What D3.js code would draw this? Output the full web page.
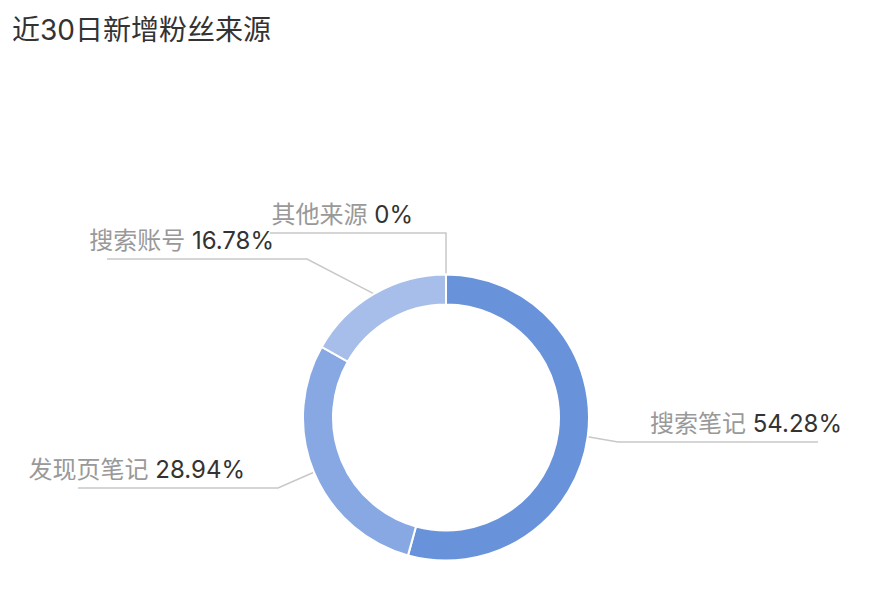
<!DOCTYPE html>
<html>
<head>
<meta charset="utf-8">
<script src="https://cdn.jsdelivr.net/npm/d3@7/dist/d3.min.js"></script>
<style>
html,body{margin:0;padding:0;background:#fff;}
svg{display:block;font-family:"Inter","Noto Sans CJK SC","Noto Sans",sans-serif;}
</style>
</head>
<body>
<svg id="chart" width="892" height="604"></svg>
<script>
const title = "近30日新增粉丝来源";
const categories = ["搜索笔记", "发现页笔记", "搜索账号", "其他来源"];
const values = [54.28, 28.94, 16.78, 0];
const valueLabels = ["54.28%", "28.94%", "16.78%", "0%"];
const colors = ["#6893da", "#88a8e3", "#a6bee9", "#c3d3f0"];

// label layout (elbow position relative to centre, horizontal run)
const labelElbows = [
  {dx: 172, dy: 24.5, run: 200},
  {dx: -168, dy: 70.5, run: -200},
  {dx: -139, dy: -158.5, run: -200},
  {dx: 0, dy: -184.5, run: -176}
];

const W = 892, H = 604;
const cx = 446, cy = 417.5, rOuter = 143, rInner = 113;
const svg = d3.select("#chart");

svg.append("text")
  .attr("x", 12).attr("y", 40)
  .attr("font-size", 28).attr("fill", "#333")
  .text(title);

const data = categories.map((c, i) => ({name: c, value: values[i], label: valueLabels[i], color: colors[i], el: labelElbows[i]}));

const pie = d3.pie().value(d => d.value).sort(null).startAngle(0).endAngle(2 * Math.PI);
const arcs = pie(data);
const arc = d3.arc().innerRadius(rInner).outerRadius(rOuter);

const g = svg.append("g").attr("transform", `translate(${cx},${cy})`);

// label lines
arcs.forEach(a => {
  const mid = (a.startAngle + a.endAngle) / 2;
  const sx = Math.sin(mid) * rOuter, sy = -Math.cos(mid) * rOuter;
  const e = a.data.el;
  const ex = e.dx, ey = e.dy;
  const endX = ex + e.run;
  g.append("polyline")
    .attr("points", `${sx},${sy} ${ex},${ey} ${endX},${ey}`)
    .attr("fill", "none").attr("stroke", "#c8c8c8").attr("stroke-width", 1.5);
  const t = g.append("text")
    .attr("y", ey - 10)
    .attr("font-size", 24);
  if (e.run > 0) {
    t.attr("x", ex + 32).attr("text-anchor", "start");
  } else {
    t.attr("x", ex - 33).attr("text-anchor", "end");
  }
  t.append("tspan").attr("fill", "#999").text(a.data.name + " ");
  t.append("tspan").attr("fill", "#333").text(a.data.label);
});

g.selectAll("path.slice").data(arcs).enter().append("path")
  .attr("class", "slice")
  .attr("d", arc)
  .attr("fill", d => d.data.color)
  .attr("stroke", "#fff").attr("stroke-width", 2).attr("stroke-linejoin", "round");
</script>
</body>
</html>
